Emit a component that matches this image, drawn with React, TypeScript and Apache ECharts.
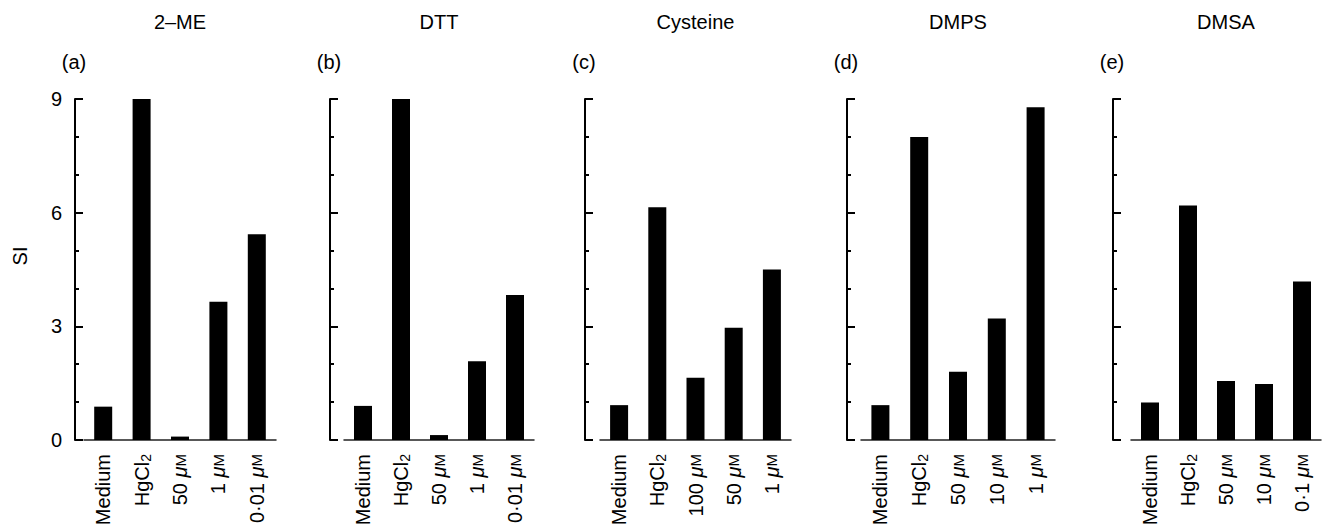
import React, { useEffect, useRef } from "react";
import * as echarts from "echarts";

const panelTitles = ["2–ME", "DTT", "Cysteine", "DMPS", "DMSA"];
const panelLetters = ["(a)", "(b)", "(c)", "(d)", "(e)"];

const catsA = ["Medium", "HgCl2", "50 μM", "1 μM", "0·01 μM"];
const catsB = ["Medium", "HgCl2", "50 μM", "1 μM", "0·01 μM"];
const catsC = ["Medium", "HgCl2", "100 μM", "50 μM", "1 μM"];
const catsD = ["Medium", "HgCl2", "50 μM", "10 μM", "1 μM"];
const catsE = ["Medium", "HgCl2", "50 μM", "10 μM", "0·1 μM"];

const valsA = [0.88, 9.0, 0.09, 3.65, 5.43];
const valsB = [0.9, 9.0, 0.13, 2.08, 3.83];
const valsC = [0.92, 6.14, 1.64, 2.96, 4.5];
const valsD = [0.92, 8.0, 1.8, 3.21, 8.78];
const valsE = [0.99, 6.19, 1.56, 1.48, 4.18];

const yTicks = [0, 3, 6, 9];
const yName = "SI";

const FONT = "Liberation Sans, Arial, Helvetica, sans-serif";
const FS = 20;

// layout per panel: grid left, grid width, axis offset
const layout = [
  { left: 84, width: 192, offset: 9 },
  { left: 344, width: 190, offset: 14 },
  { left: 600, width: 191, offset: 15 },
  { left: 861, width: 194, offset: 14 },
  { left: 1131, width: 190, offset: 18 },
];

const allCats = [catsA, catsB, catsC, catsD, catsE];
const allVals = [valsA, valsB, valsC, valsD, valsE];

function fmtLabel(s: string): string {
  if (s === "HgCl2") return "HgCl{sub|2}";
  const m = s.match(/^(.*) μM$/);
  if (m) return m[1] + " {mu|μ}{sc|M}";
  return s;
}

export default function App() {
  const ref = useRef<HTMLDivElement>(null);
  useEffect(() => {
    if (!ref.current) return;
    const chart = echarts.init(ref.current, undefined, { renderer: "svg" });
    const grids: any[] = [];
    const xAxes: any[] = [];
    const yAxes: any[] = [];
    const series: any[] = [];
    const graphics: any[] = [];
    layout.forEach((L, i) => {
      grids.push({ left: L.left, width: L.width, top: 99, bottom: 92, containLabel: false });
      xAxes.push({
        type: "category",
        gridIndex: i,
        data: allCats[i],
        boundaryGap: true,
        axisLine: { show: true, lineStyle: { color: "#222", width: 1.5 } },
        axisTick: { show: false },
        axisLabel: {
          rotate: 90,
          margin: 14,
          interval: 0,
          color: "#000",
          fontSize: FS,
          fontFamily: FONT,
          formatter: (v: string) => fmtLabel(v),
          rich: {
            sub: { fontSize: 14, fontFamily: FONT, color: "#000", verticalAlign: "bottom", padding: [8, 0, 0, 0] },
            mu: { fontSize: FS, fontStyle: "italic", fontFamily: FONT, color: "#000" },
            sc: { fontSize: 15, fontFamily: FONT, color: "#000" },
          },
        },
      });
      yAxes.push({
        type: "value",
        gridIndex: i,
        min: yTicks[0],
        max: yTicks[yTicks.length - 1],
        interval: 3,
        offset: L.offset,
        splitLine: { show: false },
        axisLine: { show: true, lineStyle: { color: "#000", width: 2 } },
        axisTick: { show: true, inside: true, length: 8, lineStyle: { color: "#000", width: 2 } },
        minorTick: { show: true, splitNumber: 3, length: 4, lineStyle: { color: "#000", width: 2 } },
        axisLabel: {
          show: i === 0,
          color: "#000",
          fontSize: FS,
          fontFamily: FONT,
          margin: 13,
        },
      });
      series.push({
        type: "bar",
        xAxisIndex: i,
        yAxisIndex: i,
        data: allVals[i],
        barWidth: 18,
        itemStyle: { color: "#000" },
      });
      graphics.push({
        type: "text",
        x: L.left + L.width / 2,
        y: 22,
        style: {
          text: panelTitles[i],
          fontSize: FS,
          fontFamily: FONT,
          fill: "#000",
          textAlign: "center",
          textVerticalAlign: "middle",
        },
      });
      graphics.push({
        type: "text",
        x: L.left - L.offset - 1,
        y: 62,
        style: {
          text: panelLetters[i],
          fontSize: FS,
          fontFamily: FONT,
          fill: "#000",
          textAlign: "center",
          textVerticalAlign: "middle",
        },
      });
    });
    graphics.push({
      type: "text",
      x: 20,
      y: 256,
      rotation: Math.PI / 2,
      style: {
        text: yName,
        fontSize: FS,
        fontFamily: FONT,
        fill: "#000",
        textAlign: "center",
        textVerticalAlign: "middle",
      },
    });
    chart.setOption({
      animation: false,
      backgroundColor: "#fff",
      grid: grids,
      xAxis: xAxes,
      yAxis: yAxes,
      series,
      graphic: graphics,
    });
    return () => chart.dispose();
  }, []);
  return (
    <div
      ref={ref}
      style={{ position: "fixed", left: 0, top: 0, width: 1332, height: 532, background: "#fff" }}
    />
  );
}
